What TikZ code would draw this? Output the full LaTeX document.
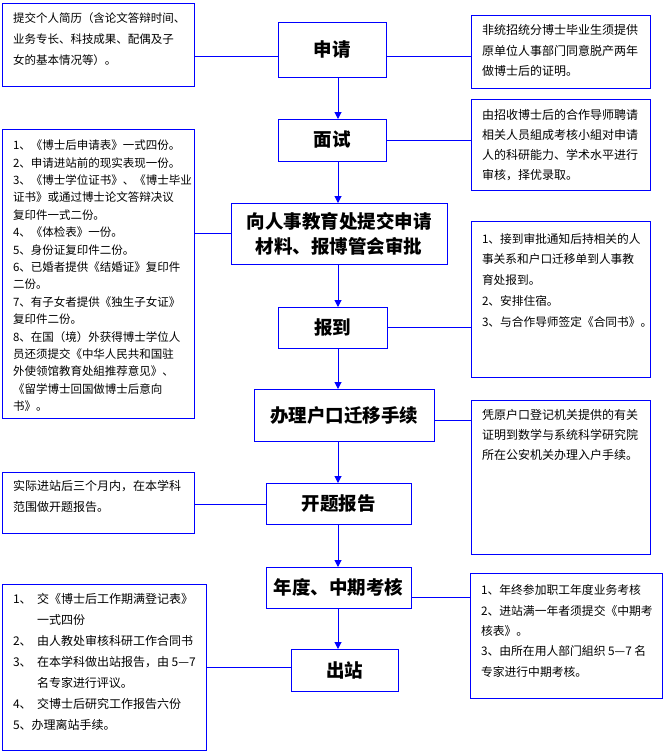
\documentclass[tikz,border=0pt]{standalone}
\usepackage{fontspec}
\setmainfont{Noto Sans CJK SC}
\usetikzlibrary{arrows.meta}
\definecolor{boxblue}{RGB}{0,0,255}
% #1 width, #2 height, #3 font size, #4 baselineskip, #5 first baseline, #6 text
\newcommand{\notebody}[6]{\parbox[c][#2][t]{#1}{\fontsize{#3}{#4}\selectfont\raggedright\rule{0pt}{#5}#6}}
\tikzset{
  note/.style={draw=boxblue, line width=1pt, anchor=north west, inner xsep=11pt, inner ysep=0pt, outer sep=0pt},
  mainbox/.style={draw=boxblue, line width=1pt, anchor=north west, inner sep=0pt, outer sep=0pt, align=center,
    font=\bfseries\fontsize{18.5pt}{25pt}\selectfont},
  conn/.style={draw=boxblue, line width=1pt},
  arr/.style={draw=boxblue, line width=1pt, -{Triangle[width=7pt,length=7pt]}, shorten >=0pt}
}
\begin{document}
\begin{tikzpicture}[x=1pt, y=-1pt]
\useasboundingbox (0,0) rectangle (666,753);

% central column
\node[mainbox, minimum width=108pt, minimum height=55pt] (apply) at (278,22) {申请};
\node[mainbox, minimum width=108pt, minimum height=42pt] (interview) at (278,119) {面试};
\node[mainbox, minimum width=216pt, minimum height=61pt] (submit) at (231,203) {向人事教育处提交申请\\材料、报博管会审批};
\node[mainbox, minimum width=109pt, minimum height=41pt] (report) at (278,307) {报到};
\node[mainbox, minimum width=180pt, minimum height=52pt] (hukou) at (254,389) {办理户口迁移手续};
\node[mainbox, minimum width=145pt, minimum height=41pt] (proposal) at (266,483) {开题报告};
\node[mainbox, minimum width=145pt, minimum height=41pt] (review) at (266,567) {年度、中期考核};
\node[mainbox, minimum width=107pt, minimum height=42pt] (leave) at (291,649) {出站};

% notes
\node[note] (L1) at (2,3) {\notebody{170pt}{83pt}{11.5pt}{21.3pt}{19pt}{提交个人简历（含论文答辩时间、\\业务专长、科技成果、配偶及子\\女的基本情况等）。}};
\node[note] (R1) at (471,15) {\notebody{157pt}{73pt}{12pt}{20.5pt}{19.6pt}{非统招统分博士毕业生须提供\\原单位人事部门同意脱产两年\\做博士后的证明。}};
\node[note] (R2) at (471,99) {\notebody{157pt}{91pt}{12pt}{20pt}{20.6pt}{由招收博士后的合作导师聘请\\相关人员組成考核小組对申请\\人的科研能力、学术水平进行\\审核，择优录取。}};
\node[note] (L2) at (2,129) {\notebody{170pt}{289pt}{11.5pt}{17.4pt}{20.6pt}{1、《博士后申请表》一式四份。\\2、申请进站前的现实表现一份。\\3、《博士学位证书》、《博士毕业\\证书》或通过博士论文答辩决议\\复印件一式二份。\\4、《体检表》一份。\\5、身份证复印件二份。\\6、已婚者提供《结婚证》复印件\\二份。\\7、有子女者提供《独生子女证》\\复印件二份。\\8、在国（境）外获得博士学位人\\员还须提交《中华人民共和国驻\\外使领馆教育处組推荐意见》、\\《留学博士回国做博士后意向\\书》。}};
\node[note] (R3) at (471,221) {\notebody{157pt}{156pt}{11.7pt}{20.8pt}{22pt}{1、接到审批通知后持相关的人\\事关系和户口迁移单到人事教\\育处报到。\\2、安排住宿。\\3、与合作导师签定《合同书》。}};
\node[note] (R4) at (471,400) {\notebody{157pt}{154pt}{12pt}{20pt}{19.6pt}{凭原户口登记机关提供的有关\\证明到数学与系统科学研究院\\所在公安机关办理入户手续。}};
\node[note] (L3) at (2,472) {\notebody{170pt}{61pt}{12pt}{20.7pt}{18.6pt}{实际进站后三个月内，在本学科\\范围做开题报告。}};
\node[note] (L4) at (2,584) {\notebody{182pt}{166pt}{12pt}{21.1pt}{19pt}{\makebox[24pt][l]{1、}交《博士后工作期满登记表》\\\hspace*{24pt}一式四份\\\makebox[24pt][l]{2、}由人教处审核科研工作合同书\\\makebox[24pt][l]{3、}\mbox{在本学科做出站报告，由~5—7}\\\hspace*{24pt}名专家进行评议。\\\makebox[24pt][l]{4、}交博士后研究工作报告六份\\5、办理离站手续。}};
\node[note] (R5) at (470,573) {\notebody{170pt}{125pt}{11.8pt}{20.4pt}{21.6pt}{1、年终参加职工年度业务考核\\2、进站满一年者须提交《中期考\\核表》。\\\mbox{3、由所在用人部门組织~5—7~名}\\专家进行中期考核。}};

% arrows down the central column
\coordinate (ax) at (338,0);
\draw[arr] (apply.south -| ax) -- (interview.north -| ax);
\draw[arr] (interview.south -| ax) -- (submit.north -| ax);
\draw[arr] (submit.south -| ax) -- (report.north -| ax);
\draw[arr] (report.south -| ax) -- (hukou.north -| ax);
\draw[arr] (hukou.south -| ax) -- (proposal.north -| ax);
\draw[arr] (proposal.south -| ax) -- (review.north -| ax);
\draw[arr] (review.south -| ax) -- (leave.north -| ax);

% connectors to notes
\draw[conn] (L1.east |- 0,56) -- (apply.west |- 0,56);
\draw[conn] (apply.east |- 0,56) -- (R1.west |- 0,56);
\draw[conn] (interview.east |- 0,140) -- (R2.west |- 0,140);
\draw[conn] (L2.east |- 0,233) -- (submit.west |- 0,233);
\draw[conn] (report.east |- 0,327) -- (R3.west |- 0,327);
\draw[conn] (hukou.east |- 0,420) -- (R4.west |- 0,420);
\draw[conn] (L3.east |- 0,504) -- (proposal.west |- 0,504);
\draw[conn] (L4.east |- 0,667) -- (leave.west |- 0,667);
\draw[conn] (review.east |- 0,597) -- (R5.west |- 0,597);
\end{tikzpicture}
\end{document}
